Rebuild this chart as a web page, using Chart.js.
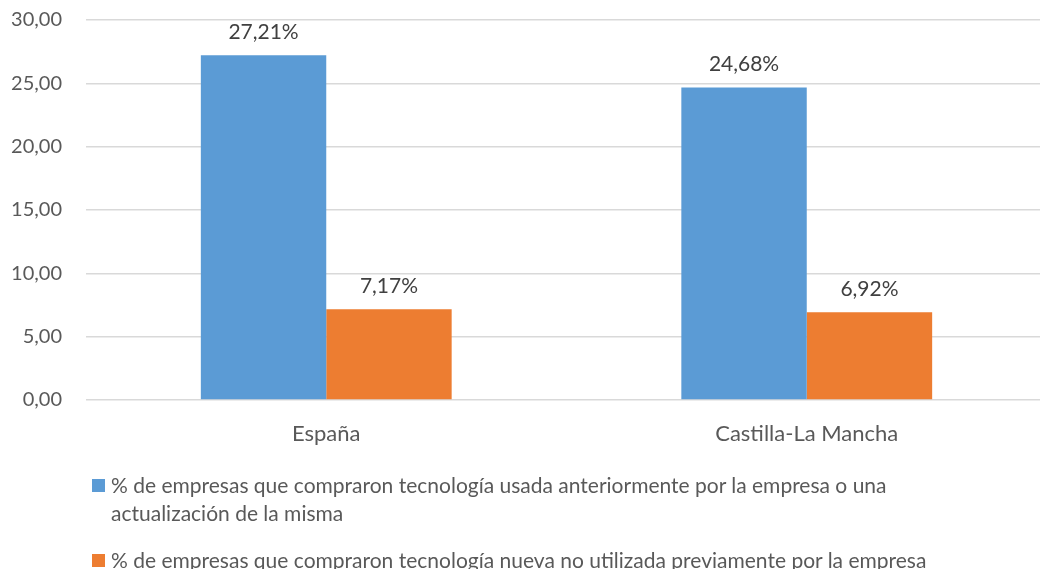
<!DOCTYPE html>
<html>
<head>
<meta charset="utf-8">
<script src="https://cdn.jsdelivr.net/npm/chart.js@4"></script>
<style>
  html, body { margin: 0; padding: 0; background: #fff; overflow: hidden; }
  #wrap { position: relative; width: 1048px; height: 569px; }
  #legend { position: absolute; left: 92px; top: 471px; width: 870px;
            font-family: Lato, sans-serif; font-size: 21px; color: #595959; }
  .item { position: relative; padding-left: 19px; line-height: 28px; margin-bottom: 19px; }
  .box { position: absolute; left: 0; top: 8px; width: 13px; height: 13px; }
</style>
</head>
<body>
<div id="wrap">
  <canvas id="myChart" width="1048" height="569"></canvas>
  <div id="legend"></div>
</div>
<script>
var categories = ["España", "Castilla-La Mancha"];
var seriesNames = [
    "% de empresas que compraron tecnología usada anteriormente por la empresa o una actualización de la misma",
    "% de empresas que compraron tecnología nueva no utilizada previamente por la empresa"
];
var usada = [27.21, 24.68];
var nueva = [7.17, 6.92];
var yTicks = [0, 5, 10, 15, 20, 25, 30];
var colors = ["#5B9BD5", "#ED7D31"];

function comma(v, d) {
    return v.toFixed(d).replace(".", ",");
}

// etiquetas encima de las barras
var barLabels = {
    id: 'barLabels',
    afterDatasetsDraw: function (chart) {
        var ctx = chart.ctx;
        ctx.save();
        ctx.font = "21px Lato";
        ctx.fillStyle = "#404040";
        ctx.textAlign = "center";
        ctx.textBaseline = "middle";
        chart.data.datasets.forEach(function (ds, i) {
            chart.getDatasetMeta(i).data.forEach(function (bar, j) {
                ctx.fillText(comma(ds.data[j], 2) + "%", bar.x, bar.y - 23);
            });
        });
        ctx.restore();
    }
};

var ctx = document.getElementById("myChart").getContext('2d');

var myChart = new Chart(ctx, {
    type: 'bar',
    data: {
        labels: categories,
        datasets: [{
            label: seriesNames[0],
            data: usada,
            backgroundColor: colors[0]
        }, {
            label: seriesNames[1],
            data: nueva,
            backgroundColor: colors[1]
        }]
    },
    options: {
        responsive: false,
        animation: false,
        layout: { padding: { top: 20, right: 1, left: 0, bottom: 109 } },
        categoryPercentage: 0.522,
        barPercentage: 1,
        plugins: {
            legend: { display: false },
            tooltip: { enabled: false }
        },
        scales: {
            x: {
                grid: { display: false },
                border: { display: false },
                ticks: { color: "#595959", font: { family: "Lato", size: 22 }, padding: 13 },
                afterFit: function (s) { s.height = 60; }
            },
            y: {
                min: 0,
                max: 30,
                afterBuildTicks: function (s) {
                    s.ticks = yTicks.map(function (v) { return { value: v }; });
                },
                // marcas invisibles para separar las etiquetas del eje
                grid: { color: "#D9D9D9", lineWidth: 1.5, tickLength: 24, tickColor: "rgba(0,0,0,0)" },
                border: { display: false },
                ticks: {
                    color: "#595959",
                    font: { family: "Lato", size: 20 },
                    padding: 0,
                    callback: function (v) { return comma(v, 2); }
                },
                afterFit: function (s) { s.width = 86; }
            }
        }
    },
    plugins: [barLabels]
});

var legend = document.getElementById("legend");
seriesNames.forEach(function (name, i) {
    var div = document.createElement("div");
    div.className = "item";
    div.innerHTML = '<span class="box" style="background:' + colors[i] + '"></span>' + name;
    legend.appendChild(div);
});
</script>
</body>
</html>
